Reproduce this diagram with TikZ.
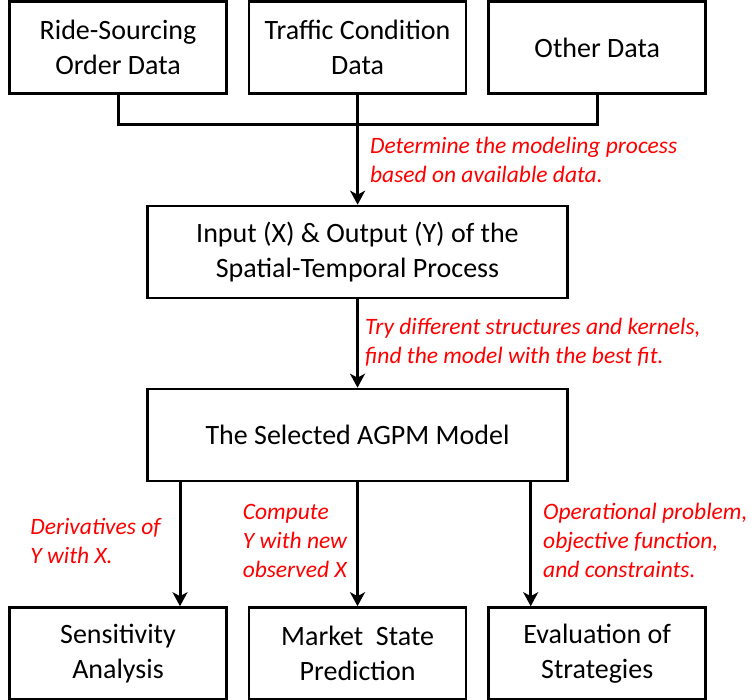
\documentclass[tikz,border=0pt]{standalone}
\usepackage{fontspec}
\setmainfont{Carlito}
\usetikzlibrary{arrows.meta, positioning, calc}
\definecolor{cLine}{HTML}{000000}
\definecolor{cBoxBg}{HTML}{FFFFFF}
\definecolor{cNote}{HTML}{FF0000}

\begin{document}
\begin{tikzpicture}[
    x=1pt, y=1pt,
    >={Stealth[length=14pt, width=15pt, inset=4pt]},
    % Core item styles
    box/.style={rectangle, draw=cLine, line width=2.6pt, fill=cBoxBg, align=center, inner sep=0pt, minimum height=92pt, font=\fontsize{28}{35}\selectfont},
    data_box/.style={box, minimum width=217pt},
    wide_box/.style={box, minimum width=420pt},
    % Note style (red italic labels beside arrows)
    note/.style={inner sep=0pt, align=left, text=cNote, font=\fontsize{23.5}{29}\selectfont\itshape},
    % Line styles
    link/.style={line width=3pt, color=cLine},
    arrow/.style={->, link}
]
\useasboundingbox (0,0) rectangle (751,-700);

% --- DATA SOURCES ---
\node[data_box] (ride) at (118,-47.5) {Ride-Sourcing\\Order Data};
\node[data_box, right=20pt of ride] (traffic) {Traffic Condition\\Data};
\node[data_box, right=20pt of traffic] (other) {Other Data};

% --- PROCESS ---
\node[wide_box] (process) at (357.5,-252) {Input (X) \& Output (Y) of the\\Spatial-Temporal Process};

% --- MODEL ---
\node[wide_box] (agpm) at (357.5,-435) {The Selected AGPM Model};

% --- APPLICATIONS ---
\node[data_box] (sens) at (118,-653.5) {Sensitivity\\Analysis};
\node[data_box, right=20pt of sens] (market) {Market\ \ State\\Prediction};
\node[data_box, right=20pt of market] (eval) {Evaluation of\\Strategies};

% --- ARROWS ---
\coordinate (join) at ($(traffic.south)+(0,-29.5)$);
\draw[link] (ride.south) |- (join) -| (other.south);
\draw[link] (traffic.south) -- (join);
\draw[arrow] (join) -- node[note, right=11pt, pos=0.44] {Determine the modeling process\\based on available data.} (join |- process.north);

\draw[arrow] (process.south) -- node[note, right=6pt, pos=0.49] {Try different structures and kernels,\\find the model with the best fit.} (agpm.north);

\coordinate (sens_in) at ([xshift=62pt]sens.north);
\coordinate (eval_in) at ([xshift=-66.5pt]eval.north);
\draw[arrow] (agpm.south -| sens_in) -- node[note, left=18pt, pos=0.47] {Derivatives of\\Y with X.} (sens_in);
\draw[arrow] (agpm.south) -- node[note, left=9pt, pos=0.47] {Compute\\Y with new\\observed X} (agpm.south |- market.north);
\draw[arrow] (agpm.south -| eval_in) -- node[note, right=11pt, pos=0.47] {Operational problem,\\objective function,\\and constraints.} (eval_in);

\end{tikzpicture}
\end{document}
